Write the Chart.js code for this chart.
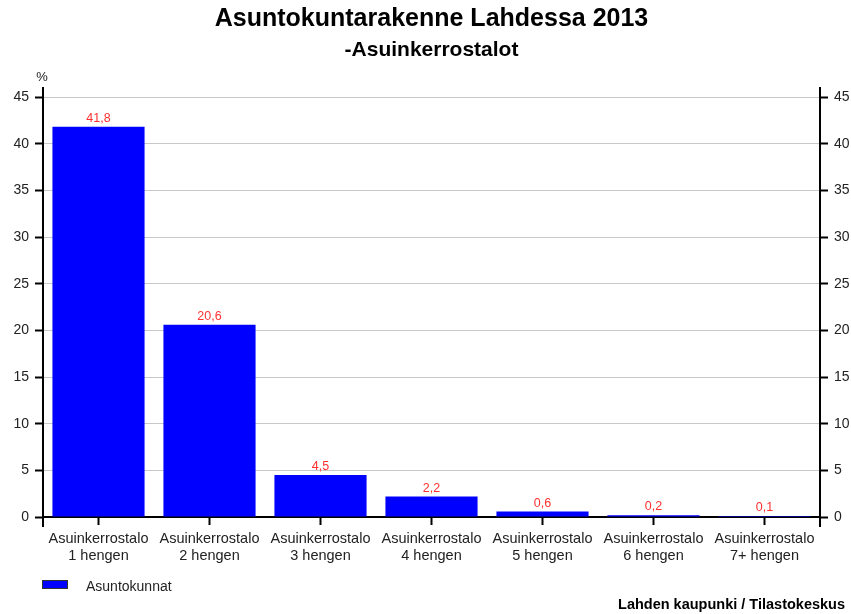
<!DOCTYPE html>
<html>
<head>
<meta charset="utf-8">
<script src="https://cdn.jsdelivr.net/npm/chart.js@4.4.0/dist/chart.umd.min.js"></script>
<style>
  html, body { margin: 0; padding: 0; background: #fff; }
  #wrap { width: 851px; height: 614px; }
</style>
</head>
<body>
<div id="wrap"><canvas id="chart" width="851" height="614"></canvas></div>
<script>
// Asuntokuntarakenne Lahdessa 2013, asuinkerrostalot
const categories = [
  ["Asuinkerrostalo", "1 hengen"],
  ["Asuinkerrostalo", "2 hengen"],
  ["Asuinkerrostalo", "3 hengen"],
  ["Asuinkerrostalo", "4 hengen"],
  ["Asuinkerrostalo", "5 hengen"],
  ["Asuinkerrostalo", "6 hengen"],
  ["Asuinkerrostalo", "7+ hengen"],
]
const asuntokunnat = [41.8, 20.6, 4.5, 2.2, 0.6, 0.2, 0.1]
const seriesName = "Asuntokunnat"
const titleText = "Asuntokuntarakenne Lahdessa 2013"
const subtitleText = "-Asuinkerrostalot"
const unitText = "%"
const sourceText = "Lahden kaupunki / Tilastokeskus"

const FONT = "'Liberation Sans', Arial, sans-serif"

// draws titles, value labels, legend and source line
const decorations = {
  id: "decorations",
  afterDatasetsDraw(chart) {
    const { ctx } = chart
    const meta = chart.getDatasetMeta(0)
    ctx.save()
    ctx.font = "12.5px " + FONT
    ctx.fillStyle = "#ff3030"
    ctx.textAlign = "center"
    ctx.textBaseline = "bottom"
    meta.data.forEach((bar, i) => {
      const txt = String(asuntokunnat[i]).replace(".", ",")
      ctx.fillText(txt, bar.x, bar.y - 2)
    })
    ctx.restore()
  },
  afterDraw(chart) {
    const { ctx, chartArea } = chart
    const mid = (chartArea.left + chartArea.right) / 2
    ctx.save()
    // axis extensions
    ctx.strokeStyle = "#000"
    ctx.lineWidth = 2
    ctx.beginPath()
    ctx.moveTo(chartArea.left, chartArea.top - 10)
    ctx.lineTo(chartArea.left, chartArea.bottom + 10)
    ctx.moveTo(chartArea.right, chartArea.top - 10)
    ctx.lineTo(chartArea.right, chartArea.bottom + 10)
    ctx.stroke()

    ctx.fillStyle = "#000"
    ctx.textAlign = "center"
    ctx.textBaseline = "middle"
    ctx.font = "bold 25px " + FONT
    ctx.fillText(titleText, mid, 19)
    ctx.font = "bold 21px " + FONT
    ctx.fillText(subtitleText, mid, 50)

    ctx.font = "13px " + FONT
    ctx.fillStyle = "#222"
    ctx.fillText(unitText, chartArea.left - 1, 77)

    // legend
    ctx.fillStyle = "#0000ff"
    ctx.fillRect(42, 580, 26, 9)
    ctx.strokeStyle = "#333"
    ctx.lineWidth = 1
    ctx.strokeRect(42.5, 580.5, 25, 8)
    ctx.fillStyle = "#222"
    ctx.textAlign = "left"
    ctx.font = "14px " + FONT
    ctx.fillText(seriesName, 86, 587)

    // source
    ctx.fillStyle = "#000"
    ctx.textAlign = "right"
    ctx.font = "bold 14.5px " + FONT
    ctx.fillText(sourceText, 845, 605)
    ctx.restore()
  },
}

const yTicks = { stepSize: 5, color: "#222", padding: 6, font: { size: 14, family: FONT } }

new Chart(document.getElementById("chart").getContext("2d"), {
  type: "bar",
  data: {
    labels: categories,
    datasets: [
      {
        label: seriesName,
        data: asuntokunnat,
        backgroundColor: "#0000ff",
        borderWidth: 0,
        barPercentage: 0.83,
        categoryPercentage: 1,
      },
    ],
  },
  options: {
    responsive: false,
    animation: false,
    layout: { padding: { top: 97, left: 0, right: 0, bottom: 0 } },
    plugins: {
      legend: { display: false },
      title: { display: false },
      tooltip: { enabled: false },
    },
    scales: {
      x: {
        afterFit: (s) => { s.height = 97 },
        grid: { drawOnChartArea: false, offset: false, tickLength: 8, tickColor: "#000", tickWidth: 2 },
        border: { color: "#000", width: 2 },
        ticks: { color: "#222", padding: 6, maxRotation: 0, autoSkip: false, font: { size: 14.5, family: FONT, lineHeight: 1.17 } },
      },
      y: {
        position: "left",
        min: 0,
        max: 45,
        afterFit: (s) => { s.width = 43 },
        grid: { color: "#c8c8c8", lineWidth: 1, tickLength: 8, tickColor: "#000", tickWidth: 2 },
        border: { color: "#000", width: 2 },
        ticks: yTicks,
      },
      y2: {
        position: "right",
        min: 0,
        max: 45,
        afterFit: (s) => { s.width = 31 },
        grid: { drawOnChartArea: false, tickLength: 8, tickColor: "#000", tickWidth: 2 },
        border: { color: "#000", width: 2 },
        ticks: yTicks,
      },
    },
  },
  plugins: [decorations],
})
</script>
</body>
</html>
